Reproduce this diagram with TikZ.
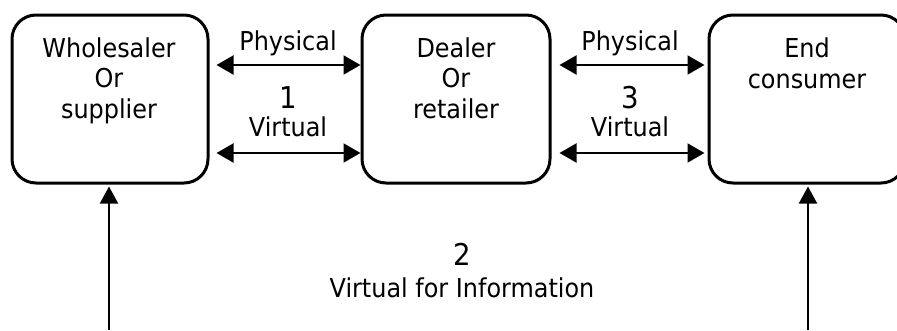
\documentclass[tikz,border=0pt]{standalone}
\usepackage{fontspec}
\setmainfont{DejaVu Sans}[FakeStretch=0.92]
\usetikzlibrary{arrows.meta,calc}
\begin{document}
\begin{tikzpicture}[x=1pt,y=-1pt,
  box/.style={draw, line width=3pt, rounded corners=24pt, minimum height=168pt, inner sep=0pt},
  lbl/.style={font=\fontsize{26}{31}\selectfont, anchor=base, inner sep=0pt},
  num/.style={font=\fontsize{30}{34}\selectfont, anchor=base, inner sep=0pt},
  biarrow/.style={line width=2pt, {Triangle[length=17pt,width=19pt]}-{Triangle[length=17pt,width=19pt]}},
  uparrow/.style={line width=2pt, -{Triangle[length=17pt,width=18pt]}}]
\useasboundingbox (0,0) rectangle (897,330);
\begin{scope}
\clip (0,0) rectangle (897,330);
\node[box, minimum width=196pt] (w) at (110,99) {};
\node[box, minimum width=188pt] (d) at (456,99) {};
\node[box, minimum width=196pt] (e) at (807,99) {};
\end{scope}
% box texts
\node[lbl] (wt1) at (109,57) {Wholesaler};
\node[lbl] (wt2) at (109,87.5) {Or};
\node[lbl] (wt3) at (109,118) {supplier};
\node[lbl] (dt1) at (456,57) {Dealer};
\node[lbl] (dt2) at (456,87.5) {Or};
\node[lbl] (dt3) at (456,118) {retailer};
\node[lbl] (et1) at (807,57) {End};
\node[lbl] (et2) at (807,88) {consumer};
% connectors between boxes
\coordinate (p1) at (0,65);
\coordinate (v1) at (0,153);
\draw[biarrow, shorten <=7pt] (w.east |- p1) -- (d.west |- p1);
\draw[biarrow, shorten <=7pt] (w.east |- v1) -- (d.west |- v1);
\draw[biarrow, shorten <=8pt, shorten >=3pt] (d.east |- p1) -- (e.west |- p1);
\draw[biarrow, shorten <=8pt, shorten >=3pt] (d.east |- v1) -- (e.west |- v1);
% labels
\node[lbl] (ph1) at (288,50) {Physical};
\node[num] (n1) at (288,108) {1};
\node[lbl] (vi1) at (288,136) {Virtual};
\node[lbl] (ph3) at (630,50) {Physical};
\node[num] (n3) at (630,108) {3};
\node[lbl] (vi3) at (630,136) {Virtual};
\node[num] (n2) at (462,265) {2};
\node[lbl] (vi2) at (462,297) {Virtual for Information};
% vertical arrows
\coordinate (wb) at (109,330);
\coordinate (eb) at (808,330);
\draw[uparrow, shorten >=2pt] (wb) -- (wb |- w.south);
\draw[uparrow, shorten >=2pt] (eb) -- (eb |- e.south);
\end{tikzpicture}
\end{document}
